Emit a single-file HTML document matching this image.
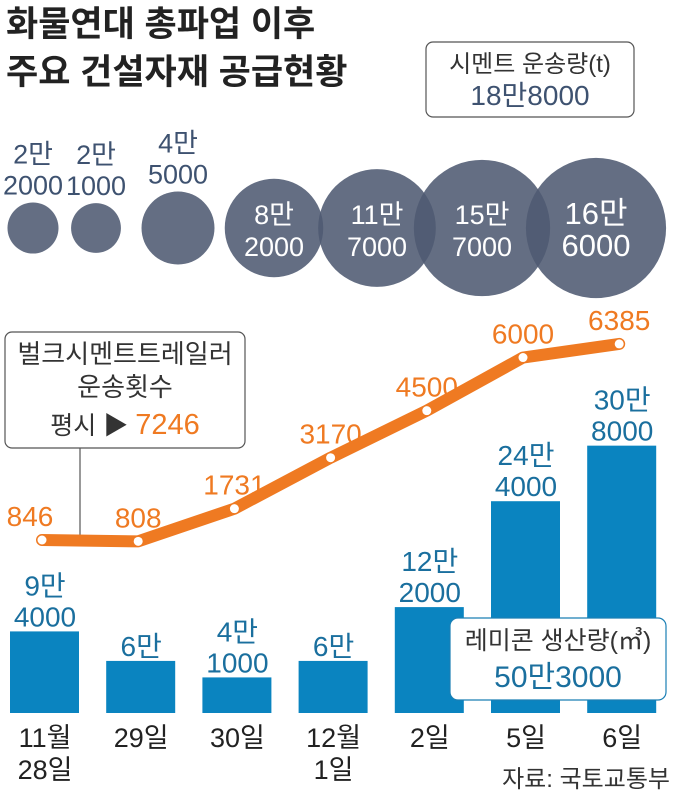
<!DOCTYPE html>
<html><head><meta charset="utf-8">
<style>
body{margin:0;background:#fff;}
svg{display:block;font-family:"Liberation Sans","Noto Sans CJK KR",sans-serif;}
</style></head>
<body>
<svg id="c" width="680" height="795" viewBox="0 0 680 795">
<text x="6" y="36" font-size="35" font-weight="bold" fill="#222">화물연대 총파업 이후</text>
<text x="6" y="84" font-size="35" font-weight="bold" fill="#222">주요 건설자재 공급현황</text>
<rect x="426" y="42" width="208" height="75" rx="7" fill="#fff" stroke="#555" stroke-width="1.2"/>
<text x="530" y="72" font-size="24" fill="#333" text-anchor="middle">시멘트 운송량(t)</text>
<text x="530" y="105" font-size="28" fill="#3e5270" text-anchor="middle">18만8000</text>
<g id="bubbles"></g>
<rect x="5" y="332" width="240" height="116" rx="7" fill="#fff" stroke="#555" stroke-width="1.2"/>
<line x1="80" y1="448" x2="80" y2="540" stroke="#555" stroke-width="1.2"/>
<text x="125" y="363" font-size="26" fill="#333" text-anchor="middle">벌크시멘트트레일러</text>
<text x="125" y="396" font-size="26" fill="#333" text-anchor="middle">운송횟수</text>
<text x="125" y="434" font-size="25" fill="#333" text-anchor="middle">평시 ▶ <tspan fill="#ef7a22" font-size="29">7246</tspan></text>
<g id="bars"></g>
<g id="line"></g>
<rect x="450" y="618" width="216" height="82" rx="8" fill="#fff" stroke="#1a7fb5" stroke-width="1.2"/>
<text x="558" y="649" font-size="25" fill="#333" text-anchor="middle">레미콘 생산량(㎥)</text>
<text x="558" y="687" font-size="30" fill="#1a6f9e" text-anchor="middle">50만3000</text>
<text x="670" y="787" font-size="24" fill="#333" text-anchor="end">자료: 국토교통부</text>
</svg>
<script>
const dayLabels=[["11월","28일"],["29일"],["30일"],["12월","1일"],["2일"],["5일"],["6일"]];
const cementValues=[22000,21000,45000,82000,117000,157000,166000];
const cementLabels=[["2만","2000"],["2만","1000"],["4만","5000"],["8만","2000"],["11만","7000"],["15만","7000"],["16만","6000"]];
const trailerValues=[846,808,1731,3170,4500,6000,6385];
const trailerLabels=["846","808","1731","3170","4500","6000","6385"];
const remiconValues=[94000,60000,41000,60000,122000,244000,308000];
const remiconLabels=[["9만","4000"],["6만"],["4만","1000"],["6만"],["12만","2000"],["24만","4000"],["30만","8000"]];
const NS="http://www.w3.org/2000/svg";
function mk(t,a,p){const e=document.createElementNS(NS,t);for(const k in a)e.setAttribute(k,a[k]);p.appendChild(e);return e;}
const xC=i=>45+i*96.2;
const bubbleX=[33,96,178,274,377,482,596];
const rS=v=>0.172*Math.sqrt(v);
const yLine=v=>540-(v-846)*0.0354;
const base=713;
const hBar=v=>v*0.000868;
const gB=document.getElementById('bubbles');
cementValues.forEach((v,i)=>{
 const r=rS(v);
 const c=mk('circle',{cx:bubbleX[i],cy:228,r:r,fill:'#4e5a72','fill-opacity':0.88},gB);
 
 
 const inside=r>45;
 const lab=cementLabels[i];
 lab.forEach((s,j)=>{
  let y=inside?228-4+j*32:228-r-8-(lab.length-1-j)*31;
  const t=mk('text',{x:bubbleX[i],y:y,'font-size':i==6?31:27,'text-anchor':'middle',fill:inside?'#fff':'#3e5270'},gB);
  t.textContent=s;
  
  
 });
});
const gR=document.getElementById('bars');
remiconValues.forEach((v,i)=>{
 const h=hBar(v);
 const b=mk('rect',{x:xC(i)-35,y:base-h,width:69,height:h,fill:'#0a84c0'},gR);
 
 
 const lab=remiconLabels[i];
 lab.forEach((s,j)=>{
  const t=mk('text',{x:xC(i),y:base-h-5-(lab.length-1-j)*31,'font-size':28,'text-anchor':'middle',fill:'#1a6f9e'},gR);
  t.textContent=s;
  
  
 });
 dayLabels[i].forEach((s,j)=>{
  const t=mk('text',{x:xC(i),y:747+j*32,'font-size':27,'text-anchor':'middle',fill:'#222'},gR);
  t.textContent=s;
  
  
 });
});
const gL=document.getElementById('line');
const pts=trailerValues.map((v,i)=>[xC(i)-3,yLine(v)]);
const pl=mk('polyline',{points:pts.map(p=>p.join(',')).join(' '),fill:'none',stroke:'#ef7a22','stroke-width':12,'stroke-linejoin':'round','stroke-linecap':'round'},gL);


pts.forEach((p,i)=>{
 const c=mk('circle',{cx:p[0],cy:p[1],r:4.5,fill:'#fff'},gL);
 
 
 const t=mk('text',{x:p[0]-(i==0?12:0),y:p[1]-14,'font-size':28,'text-anchor':'middle',fill:'#ef7a22'},gL);
 t.textContent=trailerLabels[i];
 
 
});
</script>
</body></html>
